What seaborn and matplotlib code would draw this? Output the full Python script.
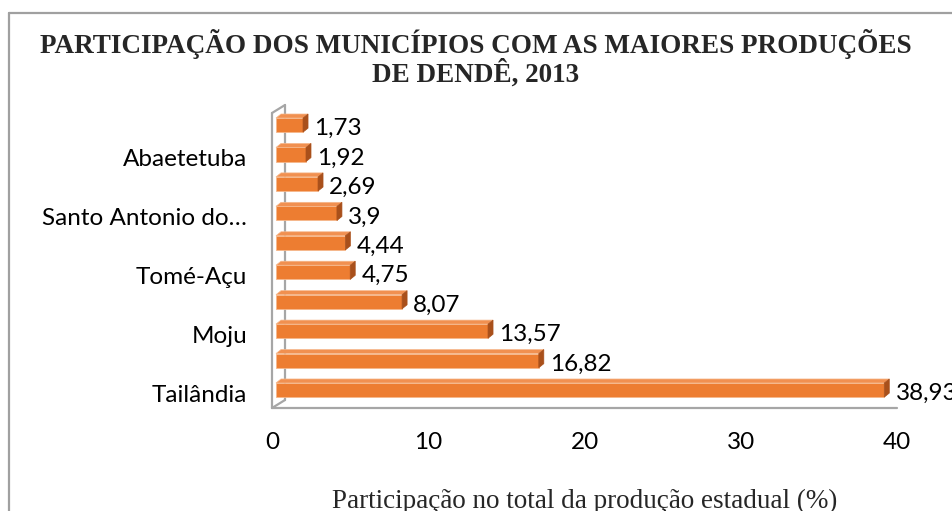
"""
Participação dos municípios com as maiores produções de dendê, 2013
barras horizontais com efeito 3D (estilo Excel)
"""
import numpy as np
import pandas as pd
import matplotlib
matplotlib.use("Agg")
import matplotlib.pyplot as plt
import matplotlib.transforms as mtransforms
from matplotlib.patches import Polygon
from matplotlib.lines import Line2D
import seaborn as sns

# dados (de cima para baixo)
PARTICIPACAO = [1.73, 1.92, 2.69, 3.9, 4.44, 4.75, 8.07, 13.57, 16.82, 38.93]
ROTULOS = ["", "Abaetetuba", "", "Santo Antonio do…", "", "Tomé-Açu", "", "Moju", "", "Tailândia"]
IDS = ["m01", "m02", "m03", "m04", "m05", "m06", "m07", "m08", "m09", "m10"]
XTICKS = [0, 10, 20, 30, 40]

TITULO = "PARTICIPAÇÃO DOS MUNICÍPIOS COM AS MAIORES PRODUÇÕES\nDE DENDÊ, 2013"
XLABEL = "Participação no total da produção estadual (%)"

FRENTE = "#ED7D31"
TOPO = "#F19050"
LADO = "#A9501B"
CINZA = "#A6A6A6"

df = pd.DataFrame({"id": IDS, "valor": PARTICIPACAO})

sns.set_theme(style="white")
plt.rcParams["font.family"] = ["Lato", "DejaVu Sans"]

W, H = 952, 511
fig = plt.figure(figsize=(W / 100, H / 100), dpi=100)
fig.patch.set_facecolor("white")

# área de plotagem (em pixels da figura)
left_px, right_px, top_px, bot_px = 272, 897, 113, 408
ax = fig.add_axes([left_px / W, 1 - bot_px / H, (right_px - left_px) / W, (bot_px - top_px) / H])

sns.barplot(data=df, x="valor", y="id", orient="h", color=FRENTE,
            width=0.48, saturation=1, edgecolor="#F6B88C", linewidth=0.6, ax=ax)

ax.set_xlim(0, 40)
ax.set_ylim(9.61, -0.41)
ax.set_xticks(XTICKS)
ax.set_xticklabels([str(t) for t in XTICKS])
ax.set_yticks(range(len(IDS)))
ax.set_yticklabels(ROTULOS)
ax.tick_params(axis="both", length=0, labelsize=17.5, colors="black")
ax.tick_params(axis="y", pad=18)
ax.tick_params(axis="x", pad=17)
ax.set_ylabel("")
ax.set_xlabel(XLABEL, fontsize=19.5, family=["Liberation Serif"], labelpad=26)
for s in ax.spines.values():
    s.set_visible(False)
ax.set_facecolor("none")

down = mtransforms.ScaledTranslation(0, -3 / 100, fig.dpi_scale_trans)
for lbl in ax.get_yticklabels():
    lbl.set_transform(lbl.get_transform() + down)

fig.canvas.draw()

# deslocamentos 3D em pixels
SHIFT = 4.0          # face frontal deslocada para dentro
DX, DY = 5.0, 4.0    # profundidade das barras
WX, WY = 13.0, 8.0   # profundidade das paredes

ident = mtransforms.IdentityTransform()
shift_tr = ax.transData + mtransforms.ScaledTranslation(SHIFT / 100, 0, fig.dpi_scale_trans)

# paredes / piso
x0d, yb = ax.transData.transform((0, 9.61))
x40d, yt = ax.transData.transform((40, -0.41))
wall = dict(color=CINZA, lw=1.6, transform=ident, clip_on=False, zorder=1)
ax.add_line(Line2D([x0d + WX, x0d + WX], [yb + WY, yt + WY], **wall))
ax.add_line(Line2D([x0d, x0d], [yb, yt], **wall))
ax.add_line(Line2D([x0d, x0d + WX], [yt, yt + WY], **wall))
ax.add_line(Line2D([x0d, x0d + WX], [yb, yb + WY], **wall))
ax.add_line(Line2D([x0d, x40d], [yb, yb], **wall))

for p, v in zip(ax.patches, PARTICIPACAO):
    p.set_transform(shift_tr)
    p.set_zorder(3)
    (xl, ylo), (xr, yhi) = shift_tr.transform([(p.get_x(), p.get_y() + p.get_height()),
                                               (p.get_x() + p.get_width(), p.get_y())])
    # face superior
    ax.add_patch(Polygon([(xl, yhi), (xr, yhi), (xr + DX, yhi + DY), (xl + DX, yhi + DY)],
                         closed=True, facecolor=TOPO, edgecolor="#F6B88C", lw=0.5,
                         transform=ident, clip_on=False, zorder=3))
    # face lateral
    ax.add_patch(Polygon([(xr, ylo), (xr, yhi), (xr + DX, yhi + DY), (xr + DX, ylo + DY)],
                         closed=True, facecolor=LADO, edgecolor=LADO, lw=0.5,
                         transform=ident, clip_on=False, zorder=3))
    ax.annotate(f"{v}".replace(".", ","), xy=(v, p.get_y() + p.get_height() / 2),
                xytext=(11, -2.5), textcoords="offset points", ha="left", va="center",
                fontsize=17.5, color="black", annotation_clip=False)

# título
fig.text(0.5, 1 - 29 / H, TITULO, ha="center", va="top", fontsize=19.5,
         fontweight="bold", family=["Liberation Serif"], linespacing=1.0)

# moldura do gráfico
fig.add_artist(Line2D([9 / W, 9 / W], [0, 1 - 13 / H], color="#A0A0A0", lw=1.6))
fig.add_artist(Line2D([9 / W, 1], [1 - 13 / H, 1 - 13 / H], color="#A0A0A0", lw=1.6))

fig.savefig("out.png", dpi=100, facecolor="white")
plt.close(fig)
